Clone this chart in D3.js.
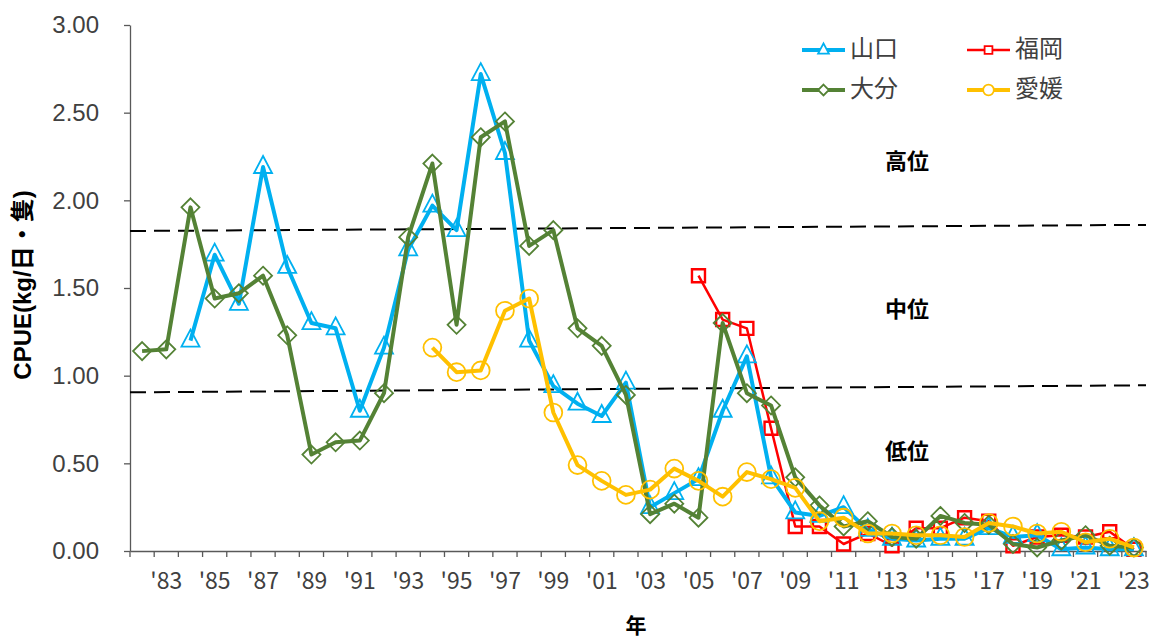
<!DOCTYPE html>
<html>
<head>
<meta charset="utf-8">
<script src="https://cdn.jsdelivr.net/npm/d3@7"></script>
<style>
  body { margin: 0; background: #fff; }
  svg { font-family: "Noto Sans CJK JP", "Noto Sans", sans-serif; }
</style>
</head>
<body>
<svg id="chart"></svg>
<script>
// Data
let years = d3.range(1982, 2024);
let yTicks = [0, 0.5, 1.0, 1.5, 2.0, 2.5, 3.0];
let xTickYears = d3.range(1983, 2024, 2);

// CPUE by prefecture (null = no data)
let yamaguchi = [null, null, 1.20, 1.69, 1.41, 2.19, 1.62, 1.30, 1.27, 0.80,
  1.16, 1.72, 1.97, 1.83, 2.72, 2.27, 1.20, 0.94, 0.84, 0.77,
  0.96, 0.25, 0.33, 0.41, 0.80, 1.11, 0.42, 0.22, 0.20, 0.25,
  0.12, 0.07, 0.06, 0.07, 0.07, 0.13, 0.08, 0.09, 0.01, 0.02,
  0.01, 0.01];
let oita = [1.14, 1.15, 1.96, 1.44, 1.47, 1.57, 1.23, 0.55, 0.62, 0.63,
  0.90, 1.79, 2.21, 1.29, 2.36, 2.45, 1.74, 1.83, 1.27, 1.17,
  0.89, 0.21, 0.27, 0.19, 1.30, 0.90, 0.83, 0.42, 0.26, 0.14,
  0.17, 0.08, 0.07, 0.20, 0.16, 0.15, 0.04, 0.02, 0.06, 0.09,
  0.03, 0.02];
let fukuoka = [null, null, null, null, null, null, null, null, null, null,
  null, null, null, null, null, null, null, null, null, null,
  null, null, null, 1.57, 1.32, 1.27, 0.70, 0.14, 0.14, 0.04,
  0.10, 0.03, 0.13, 0.13, 0.19, 0.17, 0.03, 0.08, 0.09, 0.08,
  0.11, 0.01];
let ehime = [null, null, null, null, null, null, null, null, null, null,
  null, null, 1.16, 1.02, 1.03, 1.37, 1.44, 0.79, 0.49, 0.40,
  0.32, 0.35, 0.47, 0.40, 0.31, 0.45, 0.41, 0.36, 0.17, 0.19,
  0.10, 0.10, 0.09, 0.09, 0.08, 0.16, 0.14, 0.10, 0.11, 0.05,
  0.07, 0.02];

// level borders (start and end value of each dashed line)
let upperLine = [1.825, 1.86];
let lowerLine = [0.905, 0.945];
let levelLabels = ['高位', '中位', '低位'];
let levelValues = [2.21, 1.37, 0.56];

let seriesNames = ['福岡', '山口', '大分', '愛媛'];
let seriesData = [fukuoka, yamaguchi, oita, ehime];
let seriesColors = ['#FF0000', '#00B0F0', '#548235', '#FFC000'];
let seriesMarkers = ['square', 'triangle', 'diamond', 'circle'];
let seriesWidths = [2.5, 4, 4, 4];

// SVG dimensions
let width = 1151, height = 639;
let margin = { top: 25, right: 5, bottom: 88, left: 130 };

let svg = d3.select('#chart').attr('width', width).attr('height', height);

let x = d3.scaleBand()
  .domain(years)
  .range([margin.left, width - margin.right])
  .paddingInner(0).paddingOuter(0);

let y = d3.scaleLinear()
  .domain([0, 3])
  .range([height - margin.bottom, margin.top]);

let cx = d => x(d) + x.bandwidth() / 2;

// Axes
let yAxis = svg.append('g')
  .attr('transform', `translate(${margin.left},0)`)
  .call(d3.axisLeft(y).tickValues(yTicks).tickSize(6).tickSizeOuter(0).tickFormat(d3.format('.2f')));
yAxis.select('.domain').attr('stroke', '#595959').attr('stroke-width', 1.3);
yAxis.selectAll('.tick line').attr('stroke', '#595959').attr('stroke-width', 1.3);
yAxis.selectAll('.tick text')
  .attr('x', -31)
  .attr('fill', '#404040')
  .style('font-size', '24px');

let xAxis = svg.append('g')
  .attr('transform', `translate(0,${y(0)})`)
  .call(d3.axisBottom(x).tickValues([]).tickSizeOuter(0));
xAxis.select('.domain').attr('stroke', '#595959').attr('stroke-width', 1.3);

// tick marks on the band boundaries
svg.append('g').selectAll('line')
  .data(years.concat([2024]))
  .enter()
  .append('line')
  .attr('x1', d => d === 2024 ? width - margin.right : x(d))
  .attr('x2', d => d === 2024 ? width - margin.right : x(d))
  .attr('y1', y(0))
  .attr('y2', y(0) + 6)
  .attr('stroke', '#595959')
  .attr('stroke-width', 1.3);

svg.append('g').selectAll('text')
  .data(xTickYears)
  .enter()
  .append('text')
  .attr('x', d => cx(d))
  .attr('y', y(0) + 32)
  .attr('text-anchor', 'middle')
  .attr('dominant-baseline', 'middle')
  .attr('fill', '#404040')
  .style('font-size', '23px')
  .text(d => "'" + String(d).slice(2));

// Axis titles
svg.append('text')
  .attr('transform', `translate(25,285) rotate(-90)`)
  .attr('text-anchor', 'middle')
  .attr('dominant-baseline', 'middle')
  .style('font-family', '"Liberation Sans", "Noto Sans CJK JP", sans-serif')
  .style('font-size', '24px')
  .style('font-weight', 'bold')
  .text('CPUE(kg/日・隻)');

svg.append('text')
  .attr('x', 636)
  .attr('y', 627)
  .attr('text-anchor', 'middle')
  .attr('dominant-baseline', 'middle')
  .style('font-size', '21px')
  .style('font-weight', 'bold')
  .text('年');

// Dashed level lines
[upperLine, lowerLine].forEach(l => {
  svg.append('line')
    .attr('x1', margin.left)
    .attr('x2', width - margin.right)
    .attr('y1', y(l[0]))
    .attr('y2', y(l[1]))
    .attr('stroke', '#000')
    .attr('stroke-width', 2)
    .attr('stroke-dasharray', '16,8');
});

svg.append('g').selectAll('text')
  .data(levelLabels)
  .enter()
  .append('text')
  .attr('x', 907)
  .attr('y', (d, i) => y(levelValues[i]))
  .attr('text-anchor', 'middle')
  .attr('dominant-baseline', 'middle')
  .style('font-size', '22px')
  .style('font-weight', 'bold')
  .text(d => d);

// Markers
function markerPath(type) {
  if (type === 'triangle') return 'M0,-11 L9,6 L-9,6 Z';
  if (type === 'diamond') return 'M0,-9 L9,0 L0,9 L-9,0 Z';
  if (type === 'square') return 'M-6.5,-6.5 L6.5,-6.5 L6.5,6.5 L-6.5,6.5 Z';
  return d3.symbol(d3.symbolCircle, 250)();
}

function drawSeries(i) {
  let data = years.map((yr, j) => ({ year: yr, value: seriesData[i][j] }))
    .filter(d => d.value !== null);
  let line = d3.line().x(d => cx(d.year)).y(d => y(d.value));
  let g = svg.append('g');
  g.append('path')
    .datum(data)
    .attr('d', line)
    .attr('fill', 'none')
    .attr('stroke', seriesColors[i])
    .attr('stroke-width', seriesWidths[i])
    .attr('stroke-linejoin', 'round');
  g.selectAll('path.m')
    .data(data)
    .enter()
    .append('path')
    .attr('class', 'm')
    .attr('d', markerPath(seriesMarkers[i]))
    .attr('transform', d => `translate(${cx(d.year)},${y(d.value)})`)
    .attr('fill', 'none')
    .attr('stroke', seriesColors[i])
    .attr('stroke-width', i === 0 ? 2.4 : 1.8);
}

seriesNames.forEach((n, i) => drawSeries(i));

// Legend
let legendOrder = ['山口', '福岡', '大分', '愛媛'];
let legendX = [802, 967];
let legendY = [50, 90];
legendOrder.forEach((name, k) => {
  let i = seriesNames.indexOf(name);
  let lx = legendX[k % 2], ly = legendY[Math.floor(k / 2)];
  let g = svg.append('g').attr('transform', `translate(${lx},${ly})`);
  g.append('line')
    .attr('x1', 0).attr('x2', 43)
    .attr('stroke', seriesColors[i])
    .attr('stroke-width', i === 0 ? 2.5 : 4);
  g.append('path')
    .attr('d', markerPath(seriesMarkers[i]))
    .attr('transform', 'translate(21.5,0) scale(0.6)')
    .attr('fill', '#fff')
    .attr('stroke', seriesColors[i])
    .attr('stroke-width', 3);
  g.append('text')
    .attr('x', 48)
    .attr('dominant-baseline', 'middle')
    .attr('fill', '#404040')
    .style('font-size', '24px')
    .text(name);
});
</script>
</body>
</html>
